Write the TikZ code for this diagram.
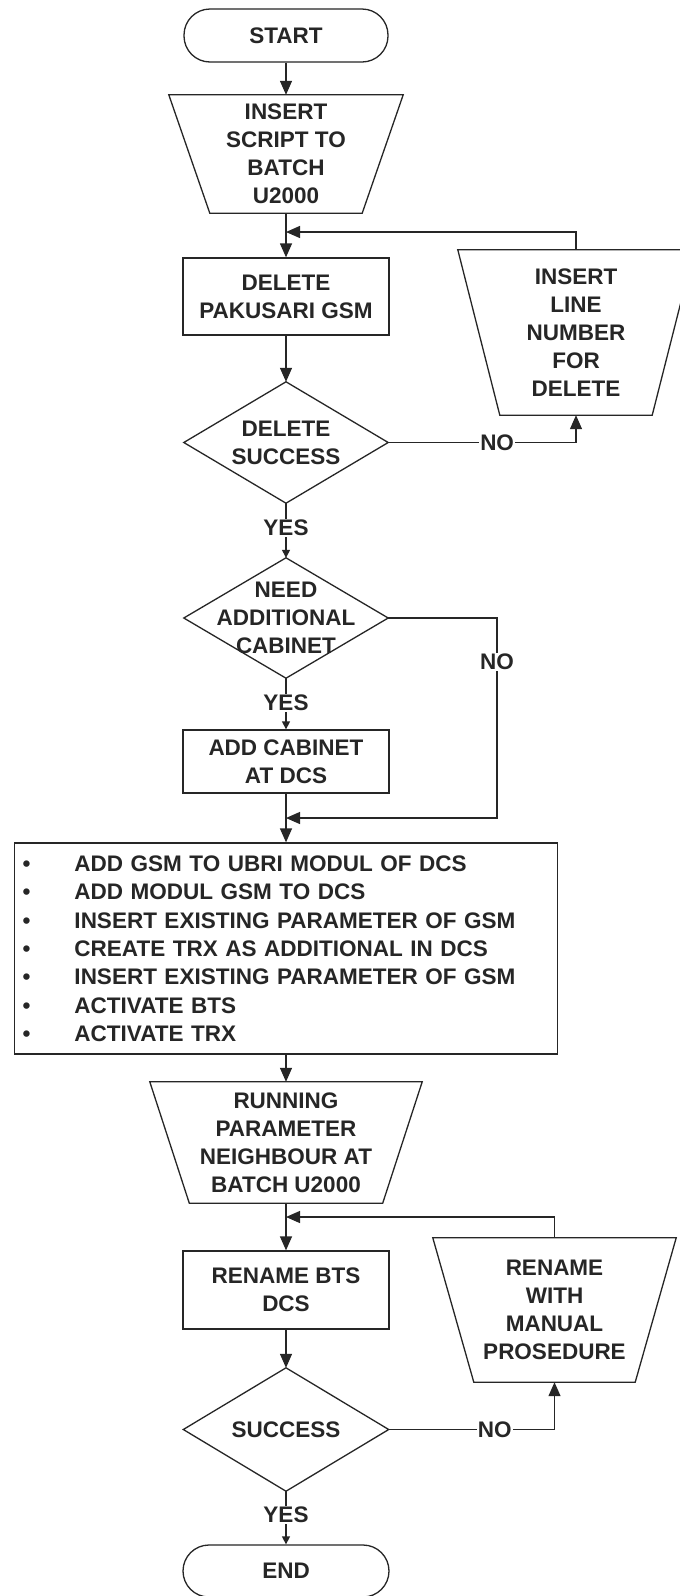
\documentclass[tikz,border=0pt]{standalone}
\usepackage{fontspec}
\setmainfont{Liberation Sans}
\usetikzlibrary{arrows.meta}
\newcommand\flbl{\bfseries\fontsize{22.5}{28}\selectfont}
\newcommand\bul{\makebox[52pt][l]{\textbullet}}
\newcommand\trapz[2]{\draw[shapeline] (#1.north west) -- (#1.north east) -- ([xshift=-#2]#1.south east) -- ([xshift=#2]#1.south west) -- cycle;}
\newcommand\diam[1]{\draw[shapeline] (#1.north) -- (#1.east) -- (#1.south) -- (#1.west) -- cycle;}
\begin{document}
\begin{tikzpicture}[x=1pt,y=-1pt,
  every node/.style={font=\flbl, text=black!85},
  base/.style={inner sep=0pt, align=center},
  shapeline/.style={line width=1.3pt, draw=black!85},
  term/.style={base, shapeline, rounded corners=26pt, minimum width=204pt, minimum height=53pt},
  proc/.style={base, shapeline, minimum width=206pt},
  arr/.style={line width=1.3pt, draw=black!85, -{Triangle[length=14pt,width=12pt]}},
  sarr/.style={line width=1.3pt, draw=black!85, -{Triangle[length=8pt,width=8pt]}},
  lab/.style={fill=white, inner sep=1pt}]
\fill[white] (0,0) rectangle (680,1596);
\clip (0,0) rectangle (680,1596);

\node[term] (start) at (286,35.5) {START};
\node[base, minimum width=234pt, minimum height=118pt] (t1) at (286,154) {INSERT\\SCRIPT TO\\BATCH\\U2000};
\trapz{t1}{41pt}
\node[proc, minimum height=77pt] (r1) at (286,296.5) {DELETE\\PAKUSARI GSM};
\node[base, minimum width=204pt, minimum height=121pt] (d1) at (286,442.5) {\fontsize{22.5}{26}\selectfont DELETE\\SUCCESS};
\diam{d1}
\node[base, minimum width=236pt, minimum height=165pt] (t2) at (576,332.5) {INSERT\\LINE\\NUMBER\\FOR\\DELETE};
\trapz{t2}{42pt}
\node[base, minimum width=204pt, minimum height=120pt] (d2) at (286,618) {NEED\\ADDITIONAL\\CABINET};
\diam{d2}
\node[proc, minimum height=63pt] (r2) at (286,761.5) {ADD CABINET\\AT DCS};
\node[shapeline, draw, minimum width=543pt, minimum height=211pt, text width=527pt, align=left, inner sep=8pt] (box) at (286,948.5)
 {\fontsize{22.5}{28.3}\selectfont
  \bul ADD GSM TO UBRI MODUL OF DCS\\
  \bul ADD MODUL GSM TO DCS\\
  \bul INSERT EXISTING PARAMETER OF GSM\\
  \bul CREATE TRX AS ADDITIONAL IN DCS\\
  \bul INSERT EXISTING PARAMETER OF GSM\\
  \bul ACTIVATE BTS\\
  \bul ACTIVATE TRX};
\node[base, minimum width=272pt, minimum height=121pt] (t3) at (286,1142.5) {RUNNING\\PARAMETER\\NEIGHBOUR AT\\BATCH U2000};
\trapz{t3}{39.5pt}
\node[proc, minimum height=78pt] (r3) at (286,1290) {RENAME BTS\\DCS};
\node[base, minimum width=243pt, minimum height=144pt] (t4) at (554.5,1310) {RENAME\\WITH\\MANUAL\\PROSEDURE};
\trapz{t4}{41pt}
\node[base, minimum width=205pt, minimum height=123pt] (d3) at (286,1429.5) {SUCCESS};
\diam{d3}
\node[term, minimum width=206pt, minimum height=52pt] (end) at (286,1571) {END};

\coordinate (j1) at (286,232);
\coordinate (j2) at (286,818);
\coordinate (k2) at (497,818);
\coordinate (j3) at (286,1217);

\draw[arr] (start.south) -- (t1.north);
\draw[arr] (t1.south) -- (r1.north);
\draw[arr] (t2.north) |- (j1);
\draw[arr] (r1.south) -- (d1.north);
\draw[arr] (d1.east) -| node[lab, pos=0.29] {NO} (t2.south);
\draw[sarr] (d1.south) -- node[lab, pos=0.45] {YES} (d2.north);
\draw[arr] (d2.east) -| node[lab, pos=0.61] {NO} (k2) -- (j2);
\draw[sarr] (d2.south) -- node[lab, pos=0.48] {YES} (r2.north);
\draw[arr] (r2.south) -- (box.north);
\draw[arr] (box.south) -- (t3.north);
\draw[arr] (t3.south) -- (r3.north);
\draw[arr] (t4.north) |- (j3);
\draw[arr] (r3.south) -- (d3.north);
\draw[arr] (d3.east) -| node[lab, pos=0.32] {NO} (t4.south);
\draw[sarr] (d3.south) -- node[lab, pos=0.44] {YES} (end.north);
\end{tikzpicture}
\end{document}
